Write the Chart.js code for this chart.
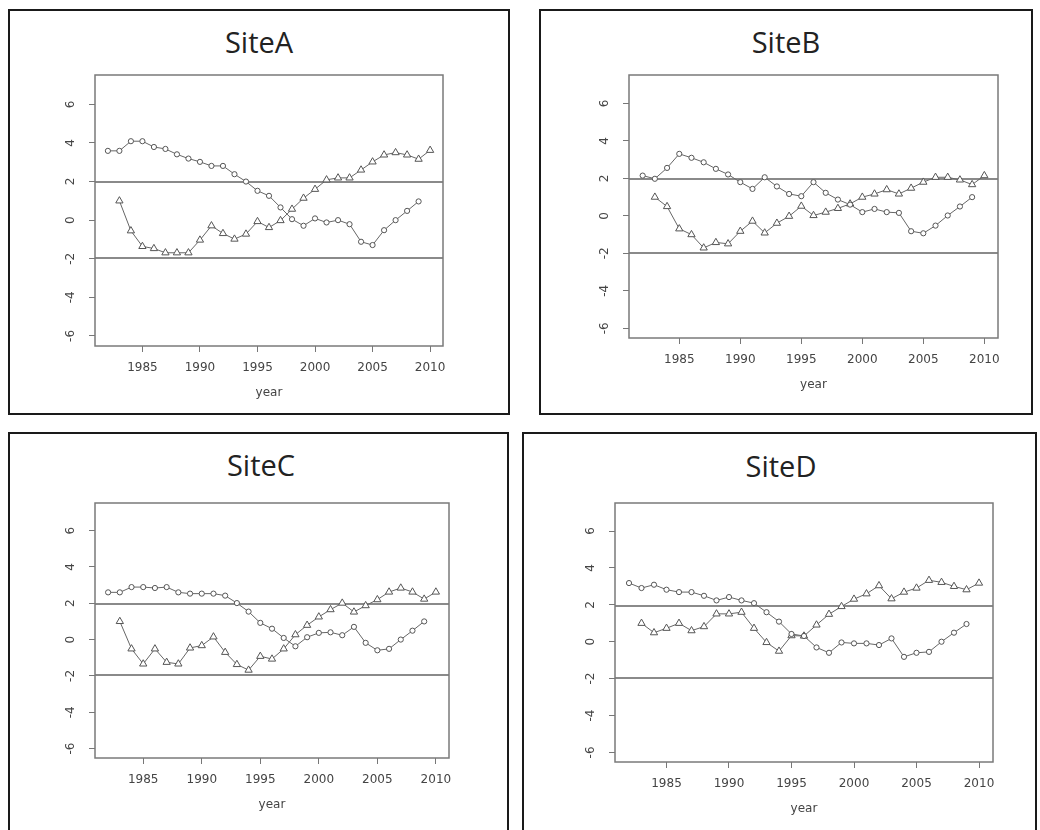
<!DOCTYPE html>
<html><head><meta charset="utf-8">
<script src="https://cdn.jsdelivr.net/npm/chart.js@4"></script>
<style>
body{margin:0;background:#fff;width:1040px;height:830px;overflow:hidden;position:relative}
.panel{position:absolute;border:2px solid #1a1a1a;box-sizing:border-box;background:#fff}
.title{position:absolute;width:200px;font-family:"Open Sans",sans-serif;font-size:29px;color:#222;text-align:center;line-height:1}
canvas{position:absolute}
</style></head><body>
<div class="panel" style="left:8px;top:9px;width:502px;height:406px"></div>
<div class="panel" style="left:539px;top:9px;width:494px;height:406px"></div>
<div class="panel" style="left:8px;top:432px;width:501px;height:420px"></div>
<div class="panel" style="left:522px;top:432px;width:515px;height:420px"></div>
<div class="title" style="left:159px;top:27px">SiteA</div>
<div class="title" style="left:686px;top:27px">SiteB</div>
<div class="title" style="left:161px;top:450px">SiteC</div>
<div class="title" style="left:681px;top:451px">SiteD</div>
<canvas id="cA" width="418" height="341" style="left:35px;top:65px"></canvas>
<canvas id="cB" width="439" height="333" style="left:569px;top:65px"></canvas>
<canvas id="cC" width="424" height="325" style="left:35px;top:493px"></canvas>
<canvas id="cD" width="448" height="329" style="left:555px;top:493px"></canvas>
<script>
// years for the forward (circle) and backward (triangle) series
const yearsCircle = [1982,1983,1984,1985,1986,1987,1988,1989,1990,1991,1992,1993,1994,1995,1996,1997,1998,1999,2000,2001,2002,2003,2004,2005,2006,2007,2008,2009];
const yearsTriangle = [1983,1984,1985,1986,1987,1988,1989,1990,1991,1992,1993,1994,1995,1996,1997,1998,1999,2000,2001,2002,2003,2004,2005,2006,2007,2008,2009,2010];

const siteA_circle = [3.59,3.59,4.09,4.09,3.79,3.69,3.41,3.19,3.02,2.81,2.81,2.38,2.0,1.52,1.26,0.66,0.05,-0.29,0.09,-0.12,0.0,-0.21,-1.12,-1.29,-0.52,0.0,0.48,0.97];
const siteA_triangle = [1.0,-0.55,-1.36,-1.47,-1.69,-1.69,-1.69,-1.03,-0.29,-0.69,-0.98,-0.72,-0.07,-0.38,-0.02,0.57,1.14,1.6,2.09,2.19,2.19,2.6,3.02,3.38,3.5,3.38,3.16,3.62];

const siteB_circle = [2.15,1.98,2.56,3.31,3.1,2.86,2.51,2.21,1.8,1.44,2.06,1.57,1.17,1.05,1.8,1.23,0.87,0.6,0.2,0.37,0.2,0.16,-0.82,-0.93,-0.52,0.02,0.5,1.0];
const siteB_triangle = [1.0,0.5,-0.69,-1.0,-1.71,-1.42,-1.49,-0.82,-0.28,-0.91,-0.39,-0.02,0.52,0.02,0.2,0.4,0.64,1.0,1.17,1.4,1.17,1.48,1.8,2.06,2.06,1.92,1.67,2.15];

const siteC_circle = [2.6,2.6,2.89,2.89,2.84,2.89,2.6,2.53,2.53,2.53,2.42,2.01,1.54,0.92,0.6,0.09,-0.37,0.13,0.37,0.4,0.24,0.7,-0.18,-0.59,-0.51,0.0,0.49,1.0];
const siteC_triangle = [1.0,-0.51,-1.34,-0.51,-1.25,-1.34,-0.46,-0.33,0.15,-0.7,-1.37,-1.68,-0.92,-1.07,-0.51,0.27,0.79,1.25,1.65,2.01,1.52,1.87,2.2,2.62,2.84,2.62,2.23,2.62];

const siteD_circle = [3.18,2.91,3.09,2.82,2.69,2.69,2.49,2.24,2.42,2.24,2.09,1.6,1.09,0.42,0.31,-0.31,-0.6,-0.04,-0.09,-0.09,-0.18,0.18,-0.82,-0.6,-0.55,0.0,0.49,0.96];
const siteD_triangle = [1.0,0.49,0.73,1.0,0.6,0.82,1.51,1.51,1.6,0.73,-0.04,-0.51,0.33,0.31,0.91,1.49,1.91,2.31,2.6,3.04,2.33,2.69,2.91,3.33,3.22,3.0,2.82,3.18];

const xTicks = [1985,1990,1995,2000,2005,2010];
const yTicks = [-6,-4,-2,0,2,4,6];
const refLines = [1.96,-1.96];
const xLabel = 'year';

const framePlugin = {
  id: 'frame',
  beforeDatasetsDraw(chart) {
    const {ctx, chartArea: a, scales: {y}} = chart;
    ctx.save();
    ctx.strokeStyle = '#8a8a8a'; ctx.lineWidth = 2;
    refLines.forEach(v => {
      const py = Math.round(y.getPixelForValue(v));
      ctx.beginPath(); ctx.moveTo(a.left, py); ctx.lineTo(a.right, py); ctx.stroke();
    });
    ctx.strokeStyle = '#7a7a7a'; ctx.lineWidth = 1.5;
    ctx.strokeRect(a.left, a.top, a.right - a.left, a.bottom - a.top);
    ctx.restore();
  }
};

function pts(xs, ys) { return xs.map((x, i) => ({x: x, y: ys[i]})); }

function makeChart(id, circleVals, triVals) {
  const tickFont = {family: 'DejaVu Sans', size: 12};
  new Chart(document.getElementById(id), {
    type: 'line',
    data: {
      datasets: [
        {data: pts(yearsCircle, circleVals), borderColor: '#666', borderWidth: 1,
         pointStyle: 'circle', pointRadius: 2.6, pointBorderColor: '#555', pointBackgroundColor: '#fff', pointBorderWidth: 1, tension: 0},
        {data: pts(yearsTriangle, triVals), borderColor: '#666', borderWidth: 1,
         pointStyle: 'triangle', pointRadius: 4.2, pointBorderColor: '#555', pointBackgroundColor: '#fff', pointBorderWidth: 1, tension: 0}
      ]
    },
    options: {
      responsive: false, animation: false, devicePixelRatio: 1,
      layout: {padding: {top: 10, right: 10, left: 0, bottom: 0}},
      plugins: {legend: {display: false}, tooltip: {enabled: false}},
      scales: {
        x: {
          type: 'linear', min: 1980.88, max: 2011.12,
          afterBuildTicks: s => { s.ticks = xTicks.map(v => ({value: v})); },
          afterFit: s => { s.height = 60; s.paddingLeft = 0; s.paddingRight = 0; },
          grid: {display: true, drawOnChartArea: false, drawTicks: true, tickLength: 6, color: '#777'},
          border: {display: false},
          ticks: {font: tickFont, color: '#444', padding: 9, maxRotation: 0, callback: v => String(v)},
          title: {display: true, text: xLabel, font: tickFont, color: '#444', padding: {top: 0, bottom: 6}}
        },
        y: {
          type: 'linear', min: -6.52, max: 7.52,
          afterBuildTicks: s => { s.ticks = yTicks.map(v => ({value: v})); },
          afterFit: s => { s.width = 60; s.paddingTop = 0; s.paddingBottom = 0; },
          grid: {display: true, drawOnChartArea: false, drawTicks: true, tickLength: 6, color: '#777'},
          border: {display: false},
          ticks: {font: tickFont, color: '#444', padding: 12, minRotation: 90, maxRotation: 90, crossAlign: 'center', callback: v => String(v)}
        }
      }
    },
    plugins: [framePlugin]
  });
}

makeChart('cA', siteA_circle, siteA_triangle);
makeChart('cB', siteB_circle, siteB_triangle);
makeChart('cC', siteC_circle, siteC_triangle);
makeChart('cD', siteD_circle, siteD_triangle);
</script>
</body></html>
